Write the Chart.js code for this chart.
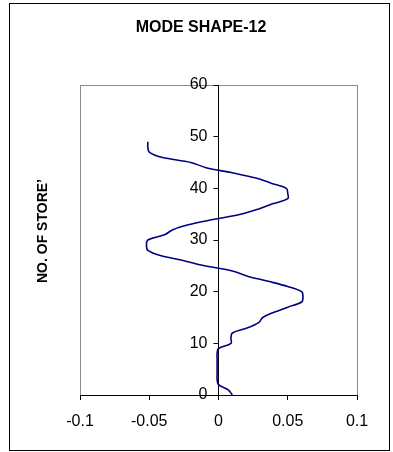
<!DOCTYPE html>
<html>
<head>
<meta charset="utf-8">
<title>MODE SHAPE-12</title>
<script src="https://cdn.jsdelivr.net/npm/chart.js@4/dist/chart.umd.min.js"></script>
<style>
  html, body { margin: 0; padding: 0; background: #fff; }
  #wrap { width: 393px; height: 452px; position: relative; }
</style>
</head>
<body>
<div id="wrap"><canvas id="c" width="393" height="452"></canvas></div>
<script>
// Storey numbers and modal displacement of each storey (mode 12)
const storeys = [
  0, 1, 2, 3, 4, 5, 6, 7, 8, 9,
  10, 11, 12, 13, 14, 15, 16, 17, 18, 19,
  20, 21, 22, 23, 24, 25, 26, 27, 28, 29,
  30, 31, 32, 33, 34, 35, 36, 37, 38, 39,
  40, 41, 42, 43, 44, 45, 46, 47, 48, 49
];
const modeShape = [
  0.010, 0.007, 0.000, -0.001, -0.001, -0.001, -0.001, -0.001, -0.001, 0.000,
  0.009, 0.009, 0.010, 0.021, 0.029, 0.032, 0.040, 0.050, 0.060, 0.061,
  0.060, 0.050, 0.036, 0.021, 0.010, -0.010, -0.025, -0.042, -0.051, -0.052,
  -0.051, -0.039, -0.033, -0.021, -0.003, 0.016, 0.029, 0.039, 0.050, 0.050,
  0.049, 0.038, 0.027, 0.010, -0.009, -0.020, -0.041, -0.050, -0.051, -0.051
];

// Axis ticks
const xTickValues = [-0.1, -0.05, 0, 0.05, 0.1];
const xTickLabels = ['-0.1', '-0.05', '0', '0.05', '0.1'];
const yTickValues = [0, 10, 20, 30, 40, 50, 60];
const yTickLabels = ['0', '10', '20', '30', '40', '50', '60'];

const chartTitle = 'MODE SHAPE-12';
const yAxisTitle = 'NO. OF STORE\u2019';

const FONT = '"Liberation Sans", Arial, sans-serif';

// Outer frame, grey plot frame and the two titles; the storey axis is
// moved so that it crosses the displacement axis at zero.
const framePlugin = {
  id: 'frame',
  afterLayout(chart) {
    const y = chart.scales.y;
    const x0 = chart.scales.x.getPixelForValue(0);
    y.right = x0;
    y.left = x0 - 40;
    y.width = 40;
  },
  beforeDraw(chart) {
    const ctx = chart.ctx;
    const a = chart.chartArea;
    ctx.save();
    ctx.fillStyle = '#fff';
    ctx.fillRect(0, 0, chart.width, chart.height);
    ctx.strokeStyle = '#000';
    ctx.lineWidth = 1;
    ctx.strokeRect(9.5, 3.5, 380, 447);
    ctx.strokeStyle = '#8c8c8c';
    ctx.strokeRect(Math.round(a.left) + 0.5, Math.round(a.top) + 0.5,
      Math.round(a.right - a.left), Math.round(a.bottom - a.top));
    ctx.restore();
  },
  afterDraw(chart) {
    const ctx = chart.ctx;
    ctx.save();
    ctx.fillStyle = '#000';
    ctx.font = 'bold 16px ' + FONT;
    ctx.textAlign = 'center';
    ctx.textBaseline = 'middle';
    ctx.fillText(chartTitle, 201, 28);
    ctx.translate(43.5, 231);
    ctx.rotate(-Math.PI / 2);
    ctx.font = 'bold 14px ' + FONT;
    ctx.fillText(yAxisTitle, 0, 0);
    ctx.restore();
  }
};

new Chart(document.getElementById('c'), {
  type: 'scatter',
  data: {
    datasets: [{
      data: storeys.map((s, i) => ({ x: modeShape[i], y: s })),
      showLine: true,
      borderColor: '#000080',
      borderWidth: 1.6,
      pointRadius: 0,
      pointHoverRadius: 0,
      tension: 0.35,
      fill: false
    }]
  },
  options: {
    responsive: false,
    devicePixelRatio: 1,
    animation: false,
    events: [],
    layout: { padding: { left: 80, right: 36, top: 85, bottom: 0 } },
    plugins: {
      legend: { display: false },
      tooltip: { enabled: false },
      title: { display: false }
    },
    scales: {
      x: {
        type: 'linear',
        position: 'bottom',
        min: -0.1,
        max: 0.1,
        afterBuildTicks(scale) {
          scale.ticks = xTickValues.map(v => ({ value: v }));
        },
        afterFit(scale) { scale.height = 57; },
        grid: {
          display: true,
          drawOnChartArea: false,
          drawTicks: true,
          tickLength: 5,
          color: '#000'
        },
        border: { display: true, color: '#000', width: 1 },
        ticks: {
          color: '#000',
          font: { family: FONT, size: 16 },
          padding: 12,
          maxRotation: 0,
          autoSkip: false,
          callback(value, index) { return xTickLabels[index]; }
        }
      },
      y: {
        type: 'linear',
        position: 'left',
        min: 0,
        max: 60,
        afterBuildTicks(scale) {
          scale.ticks = yTickValues.map(v => ({ value: v }));
        },
        afterFit(scale) { scale.width = 0; },
        grid: {
          display: true,
          drawOnChartArea: false,
          drawTicks: true,
          tickLength: 5,
          color: '#000'
        },
        border: { display: true, color: '#000', width: 1 },
        ticks: {
          color: '#000',
          font: { family: FONT, size: 16 },
          padding: 6,
          autoSkip: false,
          callback(value, index) { return yTickLabels[index]; }
        }
      }
    }
  },
  plugins: [framePlugin]
});
</script>
</body>
</html>
